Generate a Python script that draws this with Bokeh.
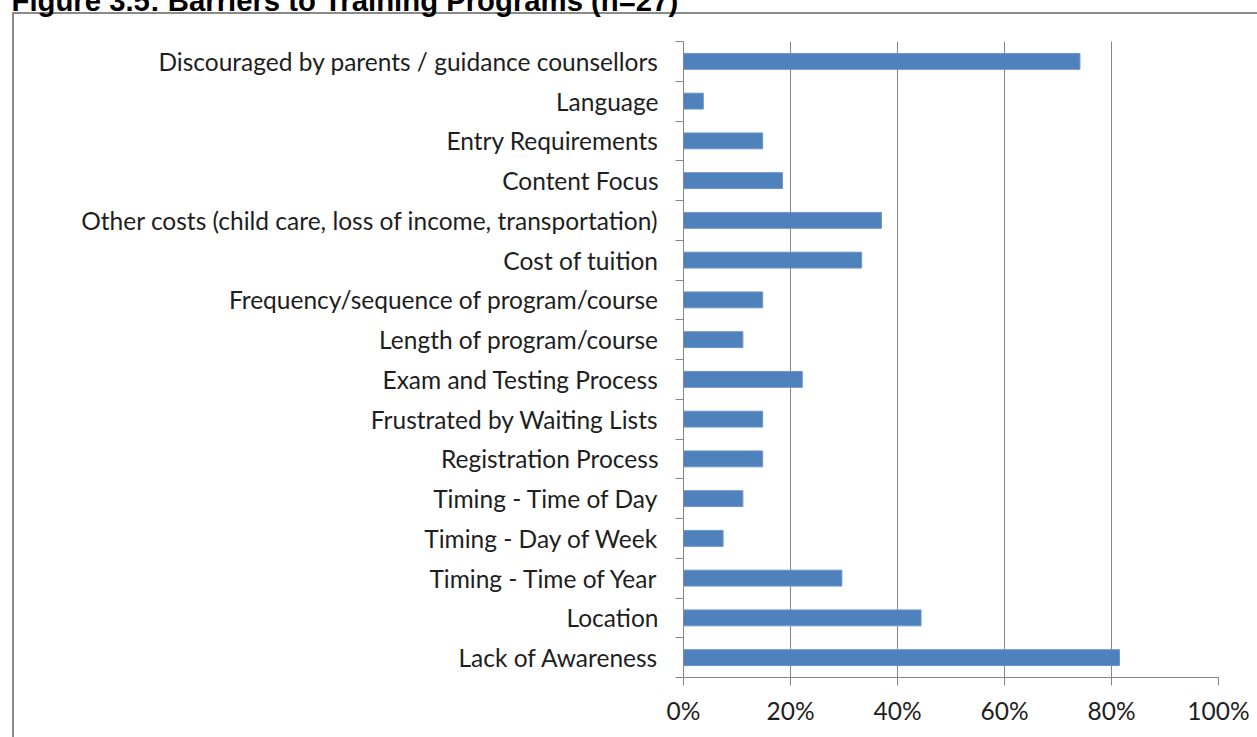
from bokeh.plotting import figure
from bokeh.models import (FixedTicker, NumeralTickFormatter, ColumnDataSource,
                          Range1d, LinearAxis, Title)
from bokeh.embed import file_html
from bokeh.resources import INLINE

title_text = "Figure 3.5: Barriers to Training Programs (n=27)"

# categories listed top to bottom
categories = [
    "Discouraged by parents / guidance counsellors",
    "Language",
    "Entry Requirements",
    "Content Focus",
    "Other costs (child care, loss of income, transportation)",
    "Cost of tuition",
    "Frequency/sequence of program/course",
    "Length of program/course",
    "Exam and Testing Process",
    "Frustrated by Waiting Lists",
    "Registration Process",
    "Timing - Time of Day",
    "Timing - Day of Week",
    "Timing - Time of Year",
    "Location",
    "Lack of Awareness",
]
values_pct = [74.1, 3.7, 14.8, 18.5, 37.0, 33.3, 14.8, 11.1, 22.2, 14.8, 14.8,
              11.1, 7.4, 29.6, 44.4, 81.5]
x_ticks = [0, 0.2, 0.4, 0.6, 0.8, 1.0]

n = len(categories)
ypos = [n - 1 - i + 0.5 for i in range(n)]
src = ColumnDataSource(dict(y=ypos, v=[v / 100 for v in values_pct], cat=categories))

OX, OY = 8, 46   # canvas offset relative to the visible window
W, H = 1257 + OX, 737 + OY
FL, FR, FT, FB = 683 + OX, 1218 + OX, 41 + OY, 677 + OY
border_gray = "#8a8a8a"

p = figure(width=W, height=H, output_backend="svg", toolbar_location=None,
           x_range=Range1d(0, 1), y_range=Range1d(0, n),
           min_border_left=FL, min_border_right=W - FR, min_border_top=FT,
           min_border_bottom=H - FB, y_axis_location=None, x_axis_location=None,
           title=None)
p.styles = {
    "margin-left": f"-{OX}px",
    "margin-top": f"-{OY}px",
    "background": (f"linear-gradient({border_gray},{border_gray}) {12 + OX}px {12 + OY}px / 2px 100% no-repeat, "
                   f"linear-gradient({border_gray},{border_gray}) {12 + OX}px {12 + OY}px / 100% 2px no-repeat, white"),
}
p.background_fill_color = "white"
p.border_fill_color = None
p.outline_line_color = None

p.hbar(y="y", right="v", left=0, height=0.4, source=src,
       fill_color="#4f81bd", line_color="#6a95c9", line_width=1)

axis_gray = "#868686"
label_color = "#1e1e1e"
font = "Lato"
fsize = "24.5px"

xa = LinearAxis(ticker=FixedTicker(ticks=x_ticks), formatter=NumeralTickFormatter(format="0%"))
xa.axis_line_color = axis_gray
xa.major_tick_line_color = axis_gray
xa.major_tick_out = 8
xa.major_tick_in = 0
xa.minor_tick_line_color = None
xa.major_label_text_font = font
xa.major_label_text_font_size = fsize
xa.major_label_text_color = label_color
xa.major_label_standoff = 10
p.add_layout(xa, "below")

ya = LinearAxis(ticker=FixedTicker(ticks=ypos, minor_ticks=list(range(n + 1))),
                major_label_overrides={y: c for y, c in zip(ypos, categories)})
ya.axis_line_color = axis_gray
ya.major_tick_line_color = None
ya.major_tick_out = 0
ya.major_tick_in = 0
ya.minor_tick_line_color = axis_gray
ya.minor_tick_out = 8
ya.minor_tick_in = 0
ya.major_label_text_font = font
ya.major_label_text_font_size = fsize
ya.major_label_text_color = label_color
ya.major_label_standoff = 17
p.add_layout(ya, "left")

p.xgrid.ticker = FixedTicker(ticks=x_ticks)
p.xgrid.grid_line_color = axis_gray
p.xgrid.grid_line_width = 1
p.ygrid.grid_line_color = None

t = Title(text=title_text, align="left", offset=11 + OX - FL, standoff=50,
          text_font="Liberation Sans", text_font_style="bold",
          text_font_size="29.3px", text_color="black")
p.add_layout(t, "above")

open("out.html", "w").write(file_html(p, INLINE))
